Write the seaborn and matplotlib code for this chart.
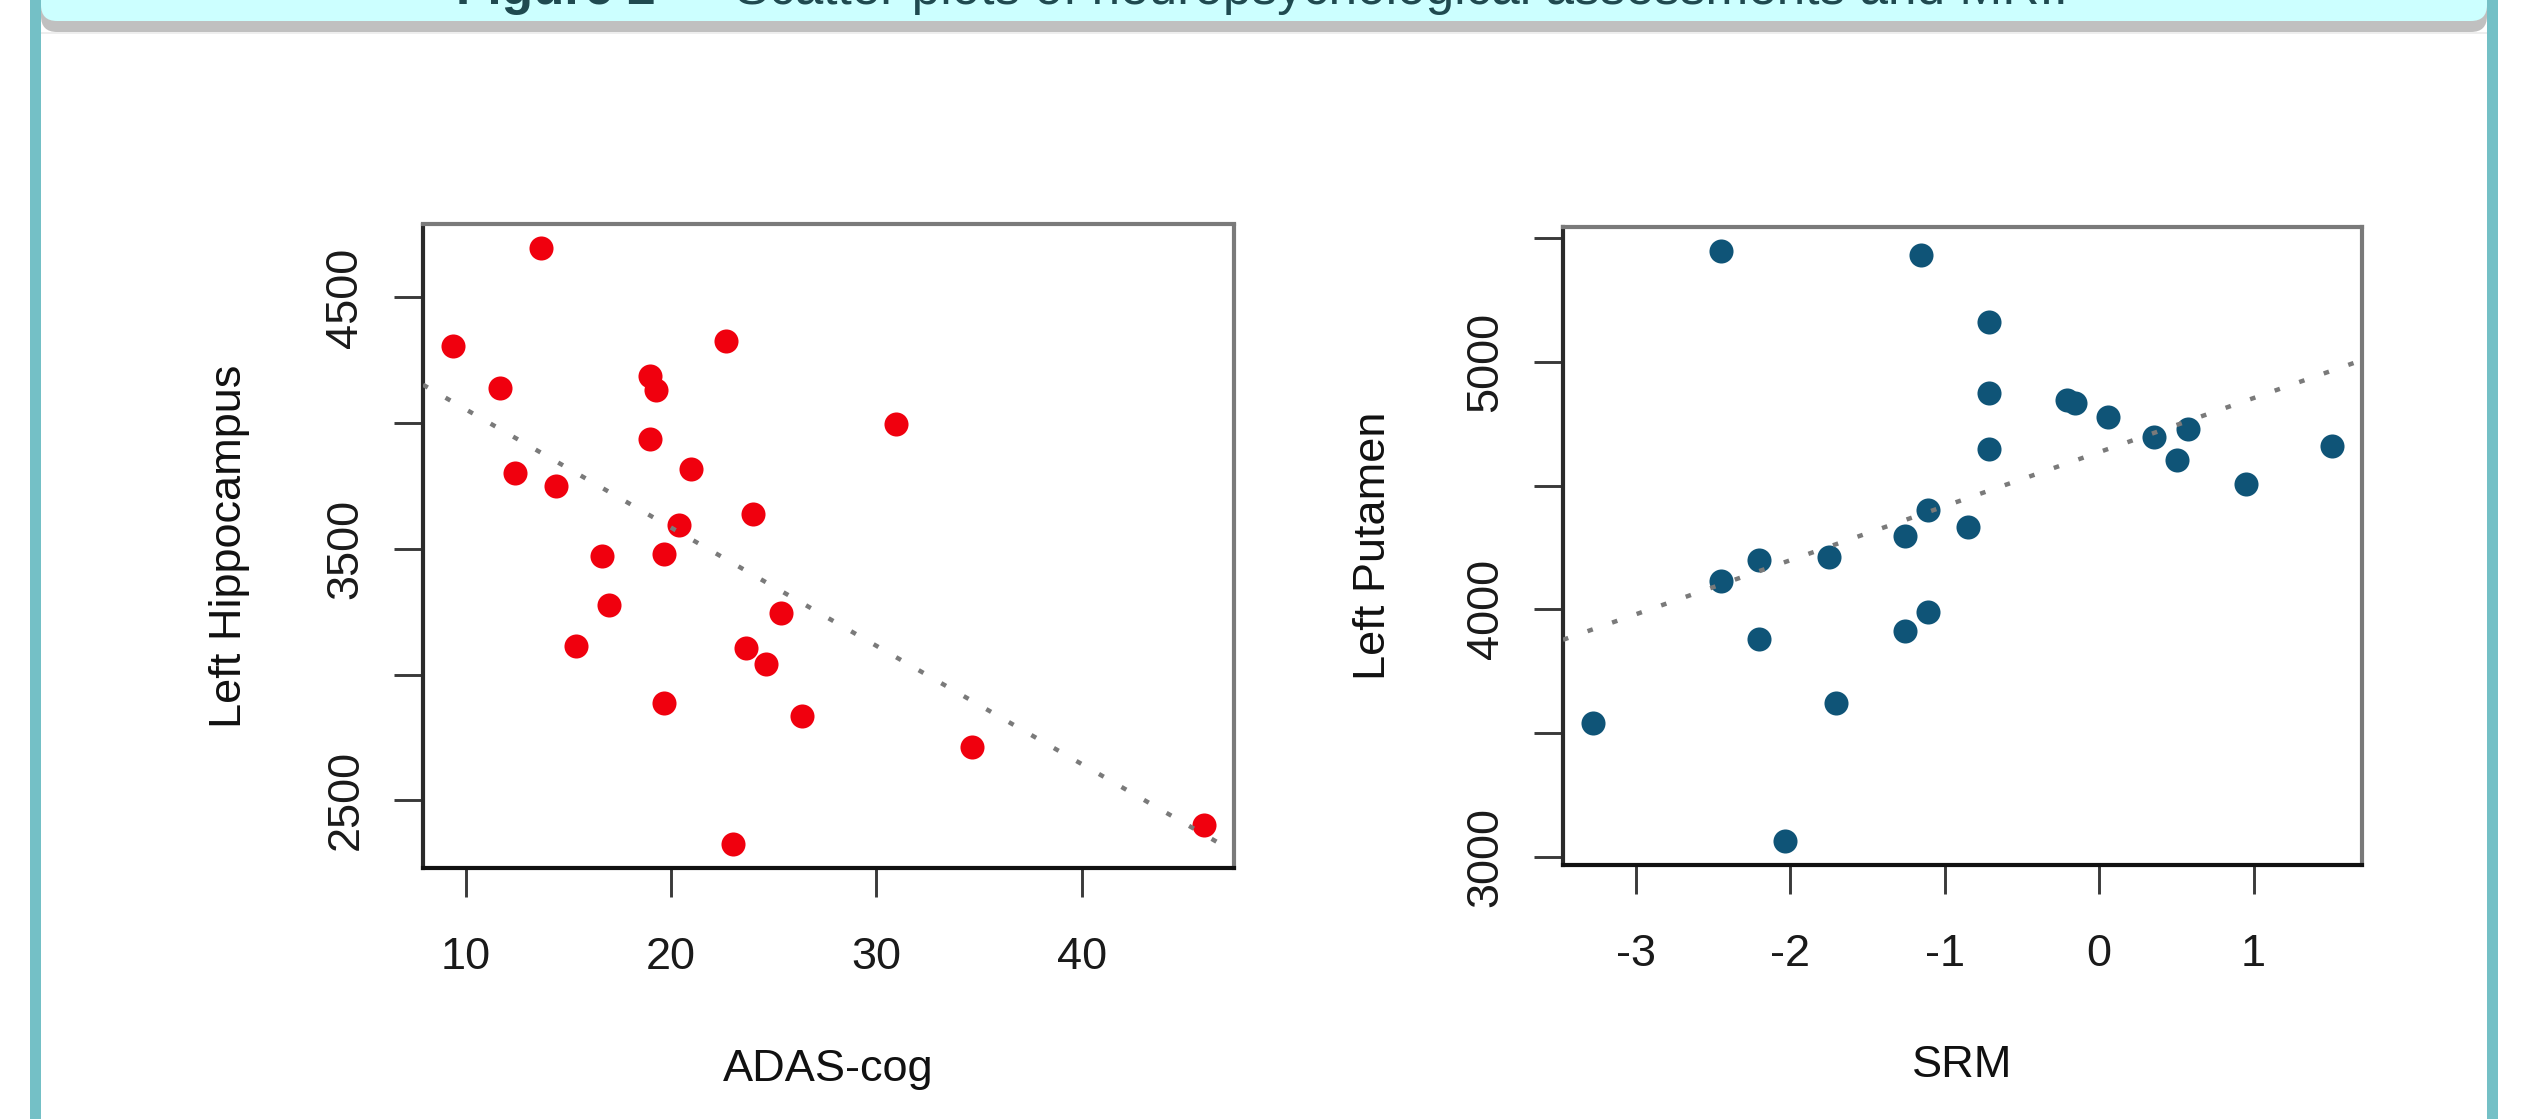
import numpy as np
import pandas as pd
import matplotlib
matplotlib.use("Agg")
import matplotlib.pyplot as plt
import matplotlib.transforms as mtransforms
from matplotlib.patches import Rectangle, FancyBboxPatch
import seaborn as sns

# ---------------- data ----------------
adas_cog = [13.69, 9.39, 22.66, 11.67, 18.98, 19.25, 30.96, 18.98, 12.42, 14.40,
            20.99, 23.99, 20.38, 16.66, 19.66, 16.96, 25.36, 15.39, 23.65, 24.64,
            19.66, 26.38, 34.64, 45.94, 23.00]
left_hippocampus = [4695, 4305, 4326, 4138, 4186, 4133, 3996, 3936, 3801, 3752,
                    3819, 3640, 3596, 3472, 3479, 3277, 3245, 3113, 3106, 3043,
                    2887, 2835, 2713, 2404, 2326]

srm = [-2.449, -1.152, -0.716, -0.716, -0.206, -0.156, 0.058, 0.358, 0.572, -0.716,
       0.502, 1.510, 0.951, -1.111, -0.852, -1.259, -2.202, -1.749, -2.449, -1.111,
       -1.259, -2.202, -1.704, -3.280, -2.033]
left_putamen = [5449, 5432, 5160, 4872, 4847, 4832, 4777, 4697, 4730, 4647,
                4604, 4661, 4508, 4402, 4332, 4295, 4200, 4211, 4115, 3989,
                3912, 3881, 3622, 3541, 3063]

hippo_x_ticks = [10, 20, 30, 40]
hippo_x_labels = ["10", "20", "30", "40"]
hippo_y_ticks = [2500, 3000, 3500, 4000, 4500]
hippo_y_labels = ["2500", "", "3500", "", "4500"]

put_x_ticks = [-3, -2, -1, 0, 1]
put_x_labels = ["-3", "-2", "-1", "0", "1"]
put_y_ticks = [3000, 3500, 4000, 4500, 5000, 5500]
put_y_labels = ["3000", "", "4000", "", "5000", ""]

title_bold = "Figure 2"
title_rest = " \u2014 Scatter plots of neuropsychological assessments and MRI."

# ---------------- style ----------------
sns.set_style("white")
plt.rcParams["font.family"] = ["Liberation Sans", "DejaVu Sans"]
plt.rcParams["axes.unicode_minus"] = False

W, H = 2524, 1119
fig = plt.figure(figsize=(W / 100, H / 100), dpi=100)
fig.patch.set_facecolor("white")
ident = mtransforms.IdentityTransform()

TEAL = "#74C0C6"
CYAN = "#CCFFFF"
SHADOW = "#C0C0C0"

# header band (shadow + cyan), rounded bottom corners, top cut off by the edge
shadow = FancyBboxPatch((41, H - 32), 2487 - 41, 80,
                        boxstyle="round,pad=0,rounding_size=16",
                        transform=ident, facecolor=SHADOW, edgecolor="none", zorder=1)
band = FancyBboxPatch((41, H - 21), 2487 - 41, 80,
                      boxstyle="round,pad=0,rounding_size=16",
                      transform=ident, facecolor=CYAN, edgecolor="none", zorder=2)
lite = Rectangle((41, H - 34), 2487 - 41, 2, transform=ident,
                 facecolor="#EEEEEE", edgecolor="none", zorder=0.5)
fig.patches.extend([lite, shadow, band])
for x0 in (30, 2487):
    fig.patches.append(Rectangle((x0, 0), 11, H, transform=ident,
                                 facecolor=TEAL, edgecolor="none", zorder=3))

# title (bold lead-in + regular rest), centred; its top is cut by the edge as in the source
FS_T = 37
TCOL = "#1F4A50"
ty = 1 - 4 / H
t1 = fig.text(0, ty, title_bold, fontsize=FS_T, fontweight="bold", color=TCOL,
              ha="left", va="baseline", zorder=4)
t2 = fig.text(0, ty, title_rest, fontsize=FS_T, color=TCOL,
              ha="left", va="baseline", zorder=4)
r = fig.canvas.get_renderer()
w1 = t1.get_window_extent(r).width
w2 = t2.get_window_extent(r).width
x_start = (W - (w1 + w2)) / 2
t1.set_x(x_start / W)
t2.set_x((x_start + w1) / W)

FS = 32.5
PT = 72 / 100  # points per pixel at 100 dpi


def panel(ax, x, y, color, xticks, xlabels, yticks, ylabels, xlabel, ylabel,
          ax_w_px, ax_h_px, xlab_base_px, ylab_px):
    df = pd.DataFrame({xlabel: x, ylabel: y})
    xr = max(x) - min(x)
    yr = max(y) - min(y)
    xlim = (min(x) - 0.04 * xr, max(x) + 0.04 * xr)
    ylim = (min(y) - 0.04 * yr, max(y) + 0.04 * yr)
    ax.set_xlim(xlim)
    ax.set_ylim(ylim)
    sns.scatterplot(data=df, x=xlabel, y=ylabel, ax=ax, color=color, s=300,
                    linewidth=0, zorder=2, legend=False)
    sns.regplot(data=df, x=xlabel, y=ylabel, ax=ax, scatter=False, ci=None,
                truncate=False,
                line_kws=dict(color="#7a7a7a", linewidth=3.2,
                              linestyle=(0, (1.25, 4.6)),
                              dash_capstyle="butt", zorder=3))
    ax.set_xlim(xlim)
    ax.set_ylim(ylim)

    ax.set_xticks(xticks, xlabels)
    ax.set_yticks(yticks, ylabels)
    ax.tick_params(axis="both", which="major", bottom=True, left=True,
                   top=False, right=False, direction="out",
                   length=29 * PT, width=2.1, color="#3a3a3a",
                   labelsize=FS, labelcolor="#1a1a1a")
    ax.tick_params(axis="x", pad=40 * PT)
    ax.tick_params(axis="y", pad=48 * PT)
    for lbl in ax.get_yticklabels():
        lbl.set_rotation(90)
        lbl.set_ha("center")
        lbl.set_va("center")

    for side, col in (("left", "#2a2a2a"), ("bottom", "#111111"),
                      ("top", "#7a7a7a"), ("right", "#7a7a7a")):
        ax.spines[side].set_visible(True)
        ax.spines[side].set_color(col)
        ax.spines[side].set_linewidth(3.0)

    ax.set_xlabel(xlabel, fontsize=FS, color="#111111")
    ax.set_ylabel(ylabel, fontsize=FS, color="#111111")
    ax.xaxis.label.set_va("baseline")
    ax.xaxis.set_label_coords(0.5, -xlab_base_px / ax_h_px)
    ax.yaxis.label.set_va("center")
    ax.yaxis.set_label_coords(-ylab_px / ax_w_px, 0.5)
    ax.grid(False)


ax1 = fig.add_axes([423 / W, 1 - 868 / H, 811 / W, 643.5 / H])
panel(ax1, adas_cog, left_hippocampus, "#F0000E", hippo_x_ticks, hippo_x_labels,
      hippo_y_ticks, hippo_y_labels, "ADAS-cog", "Left Hippocampus",
      811, 643.5, 1081 - 868, 194)

ax2 = fig.add_axes([1563 / W, 1 - 865 / H, 799 / W, 638 / H])
panel(ax2, srm, left_putamen, "#0F5477", put_x_ticks, put_x_labels,
      put_y_ticks, put_y_labels, "SRM", "Left Putamen",
      799, 638, 1077 - 865, 190)

fig.savefig("out.png", dpi=100, facecolor="white")
